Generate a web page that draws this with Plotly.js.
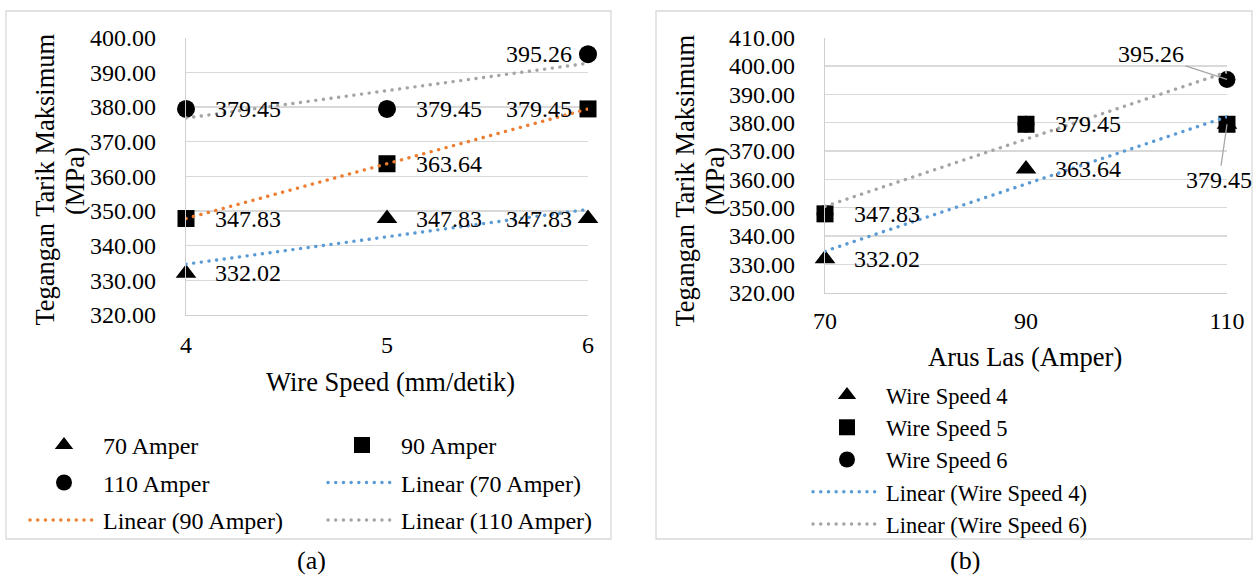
<!DOCTYPE html>
<html>
<head>
<meta charset="utf-8">
<script src="https://cdn.plot.ly/plotly-3.0.1.min.js"></script>
<style>
  html, body { margin: 0; padding: 0; background: #ffffff; }
  #chart { width: 1258px; height: 577px; }
  #chart path.js-line { stroke-linecap: round !important; }
</style>
</head>
<body>
<div id="chart"></div>
<script>
// ---------------- DATA ----------------
// Panel (a): x = wire speed, one series per welding current
const wireSpeed = [4, 5, 6];
const amper70  = [332.02, 347.83, 347.83];
const amper90  = [347.83, 363.64, 379.45];
const amper110 = [379.45, 379.45, 395.26];
const namesA = ['70 Amper', '90 Amper', '110 Amper'];

// Panel (b): x = welding current, one series per wire speed
const arusLas = [70, 90, 110];
const ws4 = [332.02, 363.64, 379.45];
const ws5 = [347.83, 379.45, 379.45];
const ws6 = [347.83, 379.45, 395.26];
const namesB = ['Wire Speed 4', 'Wire Speed 5', 'Wire Speed 6'];

const yTicksA = [320, 330, 340, 350, 360, 370, 380, 390, 400];
const yTicksB = [320, 330, 340, 350, 360, 370, 380, 390, 400, 410];

// ---------------- STYLE ----------------
const W = 1258, H = 577;
const FONT = 'Liberation Serif';
const C_BLUE = '#5B9BD5', C_ORANGE = '#ED7D31', C_GRAY = '#A5A5A5';
const GRID = '#D9D9D9';
const DOT = '0.1px,7.6px';
const px = v => v / W;
const py = v => 1 - v / H;

// label placement per point: r = right, l = left, n = none, a = leader above, b = leader below
const placeA = [['r', 'r', 'l'], ['r', 'r', 'l'], ['r', 'r', 'l']];
const placeB = [['r', 'r', 'b'], ['r', 'r', 'n'], ['n', 'n', 'a']];

function linFit(xs, ys) {
  const n = xs.length;
  const mx = xs.reduce((a, b) => a + b, 0) / n;
  const my = ys.reduce((a, b) => a + b, 0) / n;
  let sxy = 0, sxx = 0;
  for (let i = 0; i < n; i++) { sxy += (xs[i] - mx) * (ys[i] - my); sxx += (xs[i] - mx) ** 2; }
  const m = sxy / sxx, c = my - m * mx;
  const x0 = Math.min(...xs), x1 = Math.max(...xs);
  return { x: [x0, x1], y: [m * x0 + c, m * x1 + c] };
}

const seriesA = [amper70, amper90, amper110];
const symA = ['triangle-up', 'square', 'circle'];
const sizeA = [18, 17, 18];
const trendColA = [C_BLUE, C_ORANGE, C_GRAY];

const traces = [];
// Panel (a) markers: legend columns -> col1: 70, 110 ; col2: 90
const legA = ['legend', 'legend2', 'legend'];
seriesA.forEach((ys, i) => {
  traces.push({
    type: 'scatter', mode: 'markers', x: wireSpeed, y: ys, name: namesA[i],
    xaxis: 'x', yaxis: 'y', cliponaxis: false,
    legend: legA[i], legendgroup: namesA[i],
    marker: { symbol: symA[i], size: sizeA[i], color: '#000000' },
    hoverinfo: 'x+y'
  });
});
const legAT = ['legend2', 'legend', 'legend2'];
seriesA.forEach((ys, i) => {
  const f = linFit(wireSpeed, ys);
  traces.push({
    type: 'scatter', mode: 'lines', x: f.x, y: f.y, name: 'Linear (' + namesA[i] + ')',
    xaxis: 'x', yaxis: 'y', cliponaxis: false,
    legend: legAT[i], legendgroup: 'Linear (' + namesA[i] + ')',
    line: { color: trendColA[i], width: 3.4, dash: DOT },
    hoverinfo: 'skip'
  });
});

// Panel (b) markers (squares drawn last so they cover the hidden circles)
const seriesB = [ws4, ws5, ws6];
const symB = ['triangle-up', 'square', 'circle'];
const sizeB = [18, 17, 17];
const drawOrderB = [0, 2, 1];
drawOrderB.forEach(i => {
  traces.push({
    type: 'scatter', mode: 'markers', x: arusLas, y: seriesB[i], name: namesB[i],
    xaxis: 'x2', yaxis: 'y2', cliponaxis: false,
    legend: 'legend3', legendrank: i + 1,
    marker: { symbol: symB[i], size: sizeB[i], color: '#000000' },
    hoverinfo: 'x+y'
  });
});
[[0, C_BLUE], [2, C_GRAY]].forEach(([i, col], k) => {
  const f = linFit(arusLas, seriesB[i]);
  traces.push({
    type: 'scatter', mode: 'lines', x: f.x, y: f.y, name: 'Linear (' + namesB[i] + ')',
    xaxis: 'x2', yaxis: 'y2', cliponaxis: false,
    legend: 'legend3', legendrank: 4 + k,
    line: { color: col, width: 3.4, dash: DOT },
    hoverinfo: 'skip'
  });
});

// ---------------- ANNOTATIONS ----------------
const ann = [];
const labFont = { family: FONT, size: 24, color: '#000000' };
function addLabels(xs, series, places, xr, yr) {
  series.forEach((ys, s) => {
    ys.forEach((v, j) => {
      const p = places[s][j];
      if (p === 'n') return;
      const base = { x: xs[j], y: v, xref: xr, yref: yr, text: v.toFixed(2), font: labFont };
      if (p === 'r') ann.push(Object.assign(base, { showarrow: false, xanchor: 'left', xshift: 27 }));
      else if (p === 'l') ann.push(Object.assign(base, { showarrow: false, xanchor: 'right', xshift: -14 }));
      else if (p === 'a') ann.push(Object.assign(base, { showarrow: true, arrowhead: 0, arrowwidth: 1.3, arrowcolor: '#A6A6A6', ax: -76, ay: -25, standoff: 0 }));
      else if (p === 'b') ann.push(Object.assign(base, { showarrow: true, arrowhead: 0, arrowwidth: 1.3, arrowcolor: '#A6A6A6', ax: -8, ay: 56, standoff: 0 }));
    });
  });
}
addLabels(wireSpeed, seriesA, placeA, 'x', 'y');
addLabels(arusLas, seriesB, placeB, 'x2', 'y2');

const titleFont = { family: FONT, size: 26.5, color: '#000000' };
function txt(text, x, y, opts) {
  ann.push(Object.assign({ text, x: px(x), y: py(y), xref: 'paper', yref: 'paper', showarrow: false,
    xanchor: 'center', yanchor: 'middle', font: titleFont }, opts || {}));
}
// y titles
txt('Tegangan Tarik Maksimum', 44.5, 180, { textangle: -90 });
txt('(MPa)', 75, 181, { textangle: -90 });
txt('Tegangan Tarik Maksimum', 684.5, 180, { textangle: -90 });
txt('(MPa)', 715, 181, { textangle: -90 });
// x titles
txt('Wire Speed (mm/detik)', 390, 382);
txt('Arus Las (Amper)', 1025, 357);
// captions
txt('(a)', 311, 560, { font: { family: FONT, size: 26, color: '#000000' } });
txt('(b)', 965, 560, { font: { family: FONT, size: 26, color: '#000000' } });

// ---------------- LAYOUT ----------------
const tickFont = { family: FONT, size: 24, color: '#000000' };
const axY = {
  tickformat: '.2f', tickmode: 'array', showgrid: true, gridcolor: GRID, gridwidth: 1.3,
  showline: true, linecolor: '#CFCFCF', linewidth: 1.3, ticks: '', zeroline: false,
  tickfont: tickFont, ticklabelstandoff: 24, automargin: false, fixedrange: true
};
const axX = {
  tickmode: 'array', showgrid: false, showline: true, linecolor: '#CFCFCF', linewidth: 1.3,
  ticks: '', zeroline: false, tickfont: tickFont, automargin: false, fixedrange: true
};

const layout = {
  width: W, height: H,
  margin: { l: 0, r: 0, t: 0, b: 0 },
  paper_bgcolor: '#ffffff', plot_bgcolor: 'rgba(0,0,0,0)',
  font: { family: FONT, size: 24, color: '#000000' },
  showlegend: true,
  xaxis: Object.assign({}, axX, { domain: [px(186), px(588)], range: [4, 6], tickvals: wireSpeed, ticktext: wireSpeed.map(String), anchor: 'y', ticklabelstandoff: 8 }),
  yaxis: Object.assign({}, axY, { domain: [py(315), py(37.7)], range: [320, 400], tickvals: yTicksA, anchor: 'x' }),
  xaxis2: Object.assign({}, axX, { domain: [px(825), px(1227)], range: [70, 110], tickvals: arusLas, ticktext: arusLas.map(String), anchor: 'y2', ticklabelstandoff: 6 }),
  yaxis2: Object.assign({}, axY, { domain: [py(292.7), py(37.7)], range: [320, 410], tickvals: yTicksB, anchor: 'x2' }),
  legend: { x: px(25), y: py(422.9), xanchor: 'left', yanchor: 'top', orientation: 'v', bgcolor: 'rgba(0,0,0,0)',
    borderwidth: 0, font: { family: FONT, size: 24, color: '#000000' }, itemwidth: 68, tracegroupgap: 3.3, traceorder: 'grouped' },
  legend2: { x: px(323), y: py(422.9), xanchor: 'left', yanchor: 'top', orientation: 'v', bgcolor: 'rgba(0,0,0,0)',
    borderwidth: 0, font: { family: FONT, size: 24, color: '#000000' }, itemwidth: 68, tracegroupgap: 3.3, traceorder: 'grouped' },
  legend3: { x: px(808), y: py(373.9), xanchor: 'left', yanchor: 'top', orientation: 'v', bgcolor: 'rgba(0,0,0,0)',
    borderwidth: 0, font: { family: FONT, size: 22.5, color: '#000000' }, itemwidth: 68, traceorder: 'normal' },
  shapes: [
    { type: 'rect', xref: 'paper', yref: 'paper', x0: px(6), x1: px(611), y0: py(539), y1: py(11), line: { color: GRID, width: 1.3 } },
    { type: 'rect', xref: 'paper', yref: 'paper', x0: px(656), x1: px(1252), y0: py(539), y1: py(11), line: { color: GRID, width: 1.3 } }
  ],
  annotations: ann
};

Plotly.newPlot('chart', traces, layout, { staticPlot: true, displayModeBar: false });
</script>
</body>
</html>
